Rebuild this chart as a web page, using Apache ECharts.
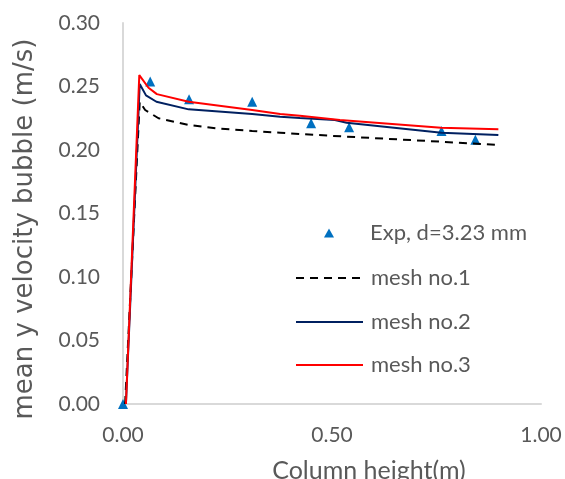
<!DOCTYPE html>
<html>
<head>
<meta charset="utf-8">
<script src="https://cdn.jsdelivr.net/npm/echarts@6/dist/echarts.min.js"></script>
<style>html,body{margin:0;padding:0;background:#fff}#c{width:565px;height:479px}</style>
</head>
<body>
<div id="c"></div>
<script>
const xTicks = ['0.00', '0.50', '1.00'];
const yTicks = ['0.00', '0.05', '0.10', '0.15', '0.20', '0.25', '0.30'];

const expX = [0, 0.065, 0.158, 0.309, 0.450, 0.541, 0.762, 0.843];
const expY = [0, 0.254, 0.240, 0.238, 0.221, 0.218, 0.215, 0.208];

const mesh1X = [0.005, 0.040, 0.053, 0.085, 0.157, 0.224, 0.309, 0.376, 0.423, 0.535, 0.762, 0.898];
const mesh1Y = [0, 0.238, 0.2315, 0.225, 0.2197, 0.217, 0.215, 0.2136, 0.2126, 0.2105, 0.2065, 0.204];

const mesh2X = [0.007, 0.040, 0.055, 0.080, 0.157, 0.309, 0.376, 0.423, 0.507, 0.535, 0.762, 0.898];
const mesh2Y = [0, 0.252, 0.243, 0.238, 0.232, 0.2283, 0.2262, 0.2252, 0.2236, 0.2215, 0.2136, 0.2118];

const mesh3X = [0.007, 0.039, 0.061, 0.081, 0.157, 0.309, 0.376, 0.423, 0.519, 0.761, 0.898];
const mesh3Y = [0, 0.259, 0.249, 0.244, 0.238, 0.2315, 0.2283, 0.2270, 0.2236, 0.2176, 0.2163];

const names = ['Exp, d=3.23 mm', 'mesh no.1', 'mesh no.2', 'mesh no.3'];

const zip = (xs, ys) => xs.map((x, i) => [x, ys[i]]);
const FONT = 'Lato';
const TXT = '#595959';

const legendTops = [222, 267, 311, 354];
const legends = names.map((n, i) => {
  const isExp = i === 0;
  return {
    data: [n],
    left: isExp ? 324 : 295,
    top: legendTops[i],
    padding: 0,
    itemWidth: isExp ? 10 : 67,
    itemHeight: isExp ? 9 : 10,
    selectedMode: false,
    itemStyle: isExp ? { opacity: 1 } : { opacity: 0 },
    textStyle: { fontFamily: FONT, fontSize: 22, color: TXT, padding: [0, 0, 0, isExp ? 31 : 3] }
  };
});

const chart = echarts.init(document.getElementById('c'), null, { renderer: 'canvas' });
chart.setOption({
  animation: false,
  backgroundColor: '#fff',
  grid: { left: 123, right: 24, top: 23, bottom: 75, containLabel: false, outerBoundsMode: 'none' },
  legend: legends,
  xAxis: {
    type: 'value', min: 0, max: 1, interval: 0.5,
    name: 'Column height(m)', nameLocation: 'middle', nameGap: 54,
    nameTextStyle: { fontFamily: FONT, fontSize: 25, color: TXT, padding: [0, 0, 0, 74] },
    axisLine: { show: true, lineStyle: { color: '#d9d9d9', width: 2 } },
    axisTick: { show: false },
    splitLine: { show: false },
    axisLabel: { fontFamily: FONT, fontSize: 21, color: TXT, margin: 21,
      formatter: v => xTicks[Math.round(v / 0.5)] }
  },
  yAxis: {
    type: 'value', min: 0, max: 0.3, interval: 0.05,
    name: 'mean y velocity bubble (m/s)', nameLocation: 'middle', nameGap: 85, nameRotate: 90,
    nameTextStyle: { fontFamily: 'DejaVu Sans', fontSize: 26, color: TXT, padding: [0, 31, 0, 0] },
    axisLine: { show: true, onZero: false, lineStyle: { color: '#d9d9d9', width: 2 } },
    axisTick: { show: false },
    splitLine: { show: false },
    axisLabel: { fontFamily: FONT, fontSize: 21, color: TXT, margin: 23,
      formatter: v => yTicks[Math.round(v / 0.05)] }
  },
  series: [
    { name: names[0], type: 'scatter', data: zip(expX, expY), symbol: 'triangle', symbolSize: 10,
      itemStyle: { color: '#0070C0', opacity: 1 }, clip: false, z: 1 },
    { name: names[1], type: 'line', data: zip(mesh1X, mesh1Y), symbol: 'none', showSymbol: false,
      lineStyle: { color: '#000', width: 2, type: [8, 6] }, itemStyle: { color: '#000' }, z: 2 },
    { name: names[2], type: 'line', data: zip(mesh2X, mesh2Y), symbol: 'none', showSymbol: false,
      lineStyle: { color: '#002060', width: 2 }, itemStyle: { color: '#002060' }, z: 3 },
    { name: names[3], type: 'line', data: zip(mesh3X, mesh3Y), symbol: 'none', showSymbol: false,
      lineStyle: { color: '#FF0000', width: 2 }, itemStyle: { color: '#FF0000' }, z: 4 }
  ]
});
</script>
</body>
</html>
